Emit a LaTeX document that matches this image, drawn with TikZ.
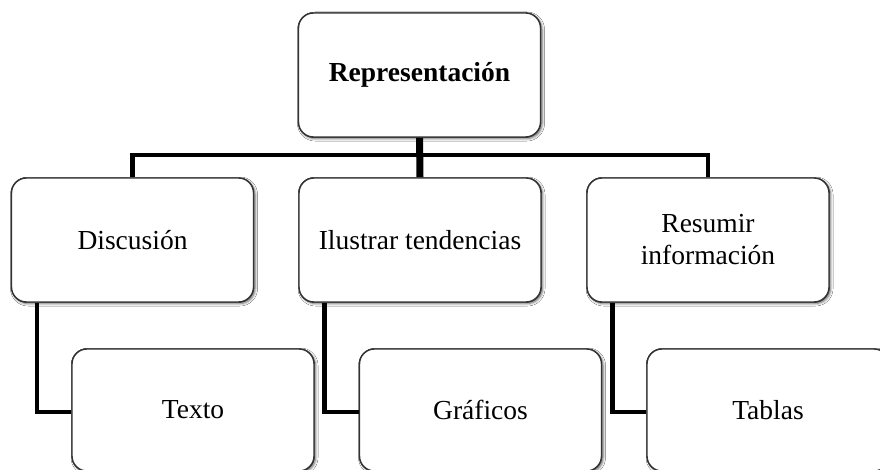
\documentclass[tikz,border=0pt]{standalone}
\usepackage{fontspec}
\setmainfont{Liberation Serif}
\usetikzlibrary{calc,shadows.blur}
\begin{document}
\begin{tikzpicture}[x=1pt,y=-1pt,
  box/.style={draw=black!80, line width=1.4pt, fill=white, rounded corners=15pt,
    minimum width=242pt, minimum height=124pt, inner sep=0pt, align=center,
    font=\fontsize{27.5}{32}\selectfont,
    blur shadow={shadow xshift=1.5pt, shadow yshift=-1.5pt, shadow blur radius=2.5pt, shadow opacity=35}},
  lowbox/.style={box, minimum height=122pt},
  link/.style={draw=black, line width=4.5pt},
  stem/.style={draw=black, line width=7pt}]
\useasboundingbox (0,0) rectangle (880,470);
\clip (0,0) rectangle (880,470);
\fill[white] (0,0) rectangle (880,470);
\coordinate (bar) at (420,155);
\node[box] (rep) at (419.5,75) {\bfseries Representación};
\node[box] (disc) at (132.5,240) {Discusión};
\node[box] (ilus) at (420,240) {Ilustrar tendencias};
\node[box] (resu) at (708,240) {Resumir\\información};
\node[lowbox] (texto) at (193,410) {Texto};
\node[lowbox] (graf) at (480.5,410) {Gráficos};
\node[lowbox] (tabl) at (768,410) {Tablas};
\draw[link] (disc.north) |- (bar) -| (resu.north);
\draw[stem] (rep.south) -- (ilus.north);
\draw[link] ($(disc.south west)+(26,0)$) |- ($(texto.west)+(0,2)$);
\draw[link] ($(ilus.south west)+(26,0)$) |- ($(graf.west)+(0,2)$);
\draw[link] ($(resu.south west)+(26,0)$) |- ($(tabl.west)+(0,2)$);
% boxes again on top of the connector ends
\node[box] at (rep) {\bfseries Representación};
\node[box] at (disc) {Discusión};
\node[box] at (ilus) {Ilustrar tendencias};
\node[box] at (resu) {Resumir\\información};
\node[lowbox] at (texto) {Texto};
\node[lowbox] at (graf) {Gráficos};
\node[lowbox] at (tabl) {Tablas};
\end{tikzpicture}
\end{document}
